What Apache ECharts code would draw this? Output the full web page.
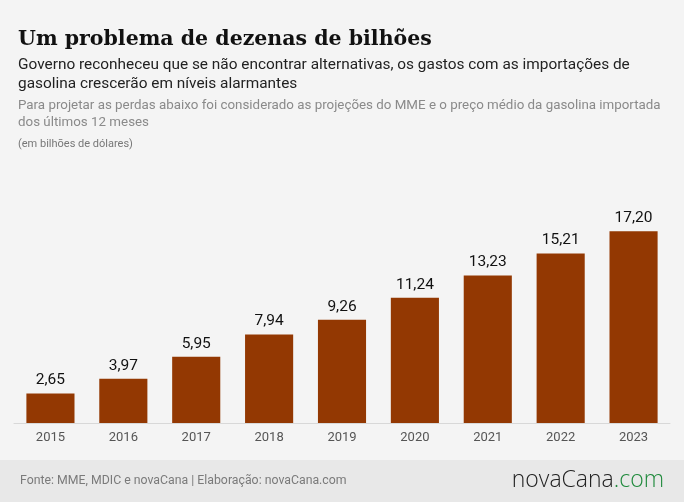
<!DOCTYPE html>
<html>
<head>
<meta charset="utf-8">
<script src="https://cdn.jsdelivr.net/npm/echarts@6/dist/echarts.min.js"></script>
<style>
  html, body { margin: 0; padding: 0; background: #f4f4f4; }
  #chart { width: 684px; height: 502px; }
</style>
</head>
<body>
<div id="chart"></div>
<script>
const years = ['2015', '2016', '2017', '2018', '2019', '2020', '2021', '2022', '2023']
const gastos = [2.65, 3.97, 5.95, 7.94, 9.26, 11.24, 13.23, 15.21, 17.20]

const fmt = v => v.toFixed(2).replace('.', ',')

const myChart = echarts.init(document.getElementById('chart'))

const option = {
  backgroundColor: '#f4f4f4',
  animation: false,
  grid: {
    left: 14,
    right: 14,
    top: 200,
    bottom: 79
  },
  xAxis: {
    type: 'category',
    data: years,
    axisLine: { lineStyle: { color: '#d8d8d8', width: 1 } },
    axisTick: { show: false },
    axisLabel: {
      color: '#555',
      fontSize: 13,
      fontFamily: 'Roboto',
      margin: 8
    }
  },
  yAxis: {
    type: 'value',
    min: 0,
    max: 20,
    show: false,
    splitLine: { show: false }
  },
  series: [
    {
      type: 'bar',
      data: gastos,
      barWidth: '66%',
      itemStyle: { color: '#933802' },
      label: {
        show: true,
        position: 'top',
        distance: 5,
        color: '#111',
        fontSize: 15.5,
        fontFamily: 'Roboto',
        formatter: p => fmt(p.value)
      }
    }
  ],
  graphic: [
    {
      type: 'rect',
      left: 0,
      top: 460,
      shape: { width: 684, height: 42 },
      style: { fill: '#e8e8e8' }
    },
    {
      type: 'text',
      left: 18,
      top: 29,
      style: {
        text: 'Um problema de dezenas de bilhões',
        fill: '#111',
        font: 'bold 20.5px "DejaVu Serif"'
      }
    },
    {
      type: 'text',
      left: 18,
      top: 56,
      style: {
        text: 'Governo reconheceu que se não encontrar alternativas, os gastos com as importações de\ngasolina crescerão em níveis alarmantes',
        fill: '#222',
        font: '15.4px Roboto',
        lineHeight: 19
      }
    },
    {
      type: 'text',
      left: 18,
      top: 97,
      style: {
        text: 'Para projetar as perdas abaixo foi considerado as projeções do MME e o preço médio da gasolina importada\ndos últimos 12 meses',
        fill: '#8a8a8a',
        font: '13.35px Roboto',
        lineHeight: 17
      }
    },
    {
      type: 'text',
      left: 18,
      top: 139,
      style: {
        text: '(em bilhões de dólares)',
        fill: '#777',
        font: '11px Roboto'
      }
    },
    {
      type: 'text',
      left: 20,
      top: 475,
      style: {
        text: 'Fonte: MME, MDIC e novaCana | Elaboração: novaCana.com',
        fill: '#7a7a7a',
        font: '12.3px Roboto'
      }
    },
    {
      type: 'text',
      right: 20,
      top: 469,
      style: {
        rich: {
          a: { fill: '#222', font: '300 23px "Open Sans"' },
          b: { fill: '#1f8a3c', font: '300 23px "Open Sans"' }
        },
        text: '{a|novaCana}{b|.com}'
      }
    }
  ]
}

myChart.setOption(option)
</script>
</body>
</html>
